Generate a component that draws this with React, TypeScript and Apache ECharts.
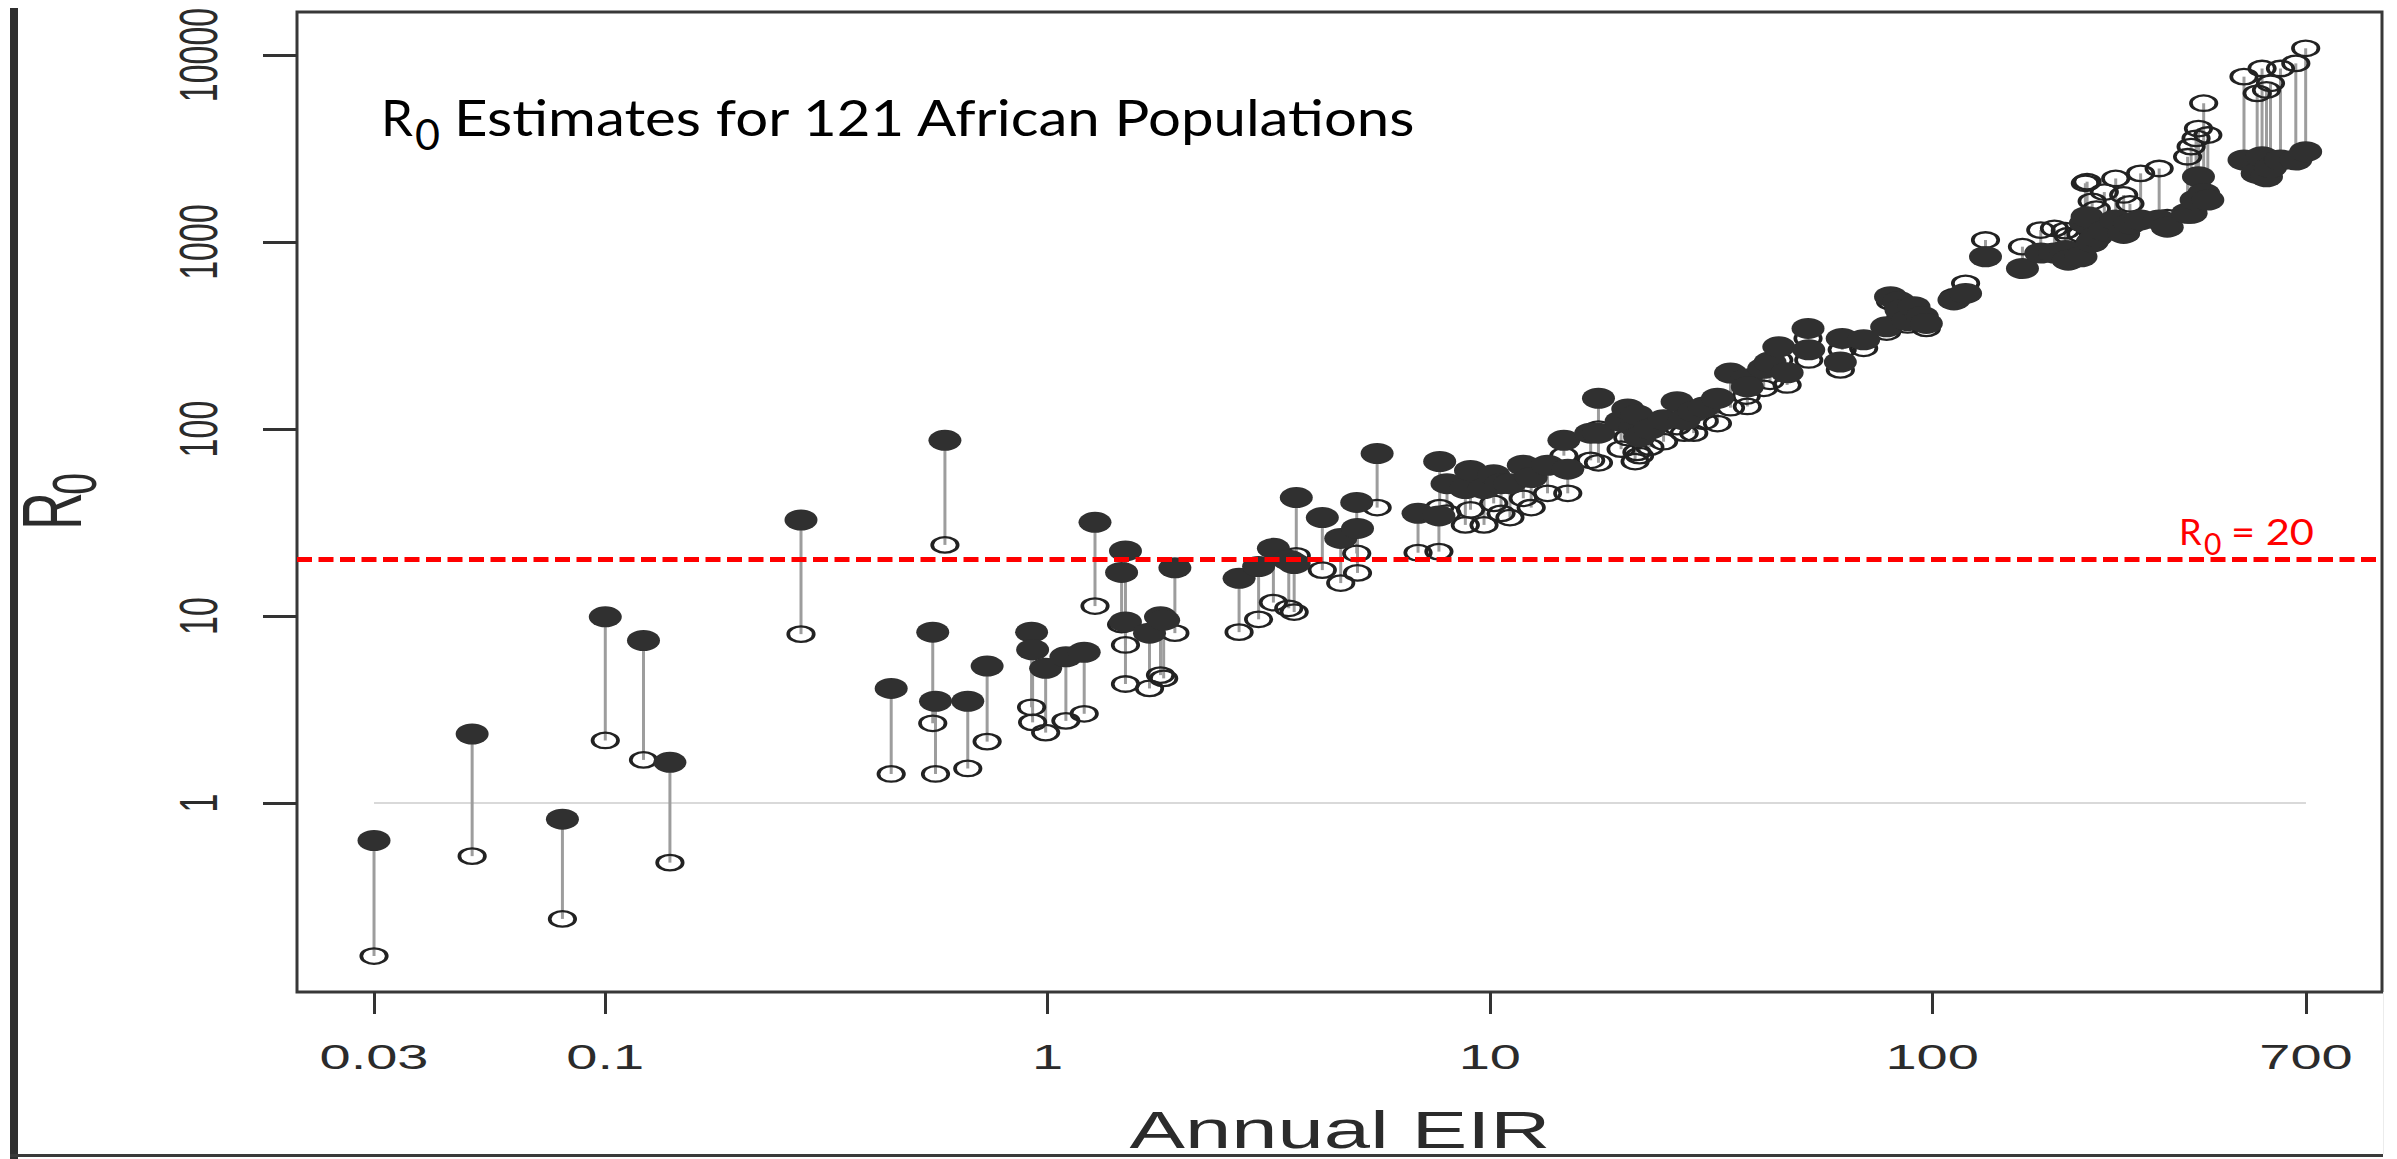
import React, { useEffect, useRef } from 'react';
import * as echarts from 'echarts';

// Annual entomological inoculation rate of each population (sorted ascending)
const annualEIR = [
  0.03, 0.05, 0.08, 0.1, 0.122, 0.14, 0.277, 0.443, 0.55, 0.558,
  0.586, 0.66, 0.73, 0.92, 0.925, 0.99, 1.1, 1.21, 1.28, 1.47,
  1.5, 1.5, 1.7, 1.8, 1.83, 1.94, 2.71, 3.0, 3.24, 3.51,
  3.61, 3.65, 4.18, 4.6, 5.0, 5.02, 5.56, 6.88, 7.67, 7.7,
  8.0, 8.8, 9.04, 9.7, 10.2, 10.6, 11.1, 11.9, 12.4, 13.5,
  14.7, 15.0, 16.9, 17.6, 17.6, 19.8, 20.5, 21.3, 21.5, 21.8,
  23, 24.7, 26.5, 27.5, 28.9, 30.5, 32.7, 35, 38, 38.2,
  41.6, 43, 45, 47, 52.4, 52.6, 62, 62.6, 70, 78.9,
  80.5, 84, 85, 88, 91, 95, 97, 112, 119, 132,
  160, 176, 189, 200, 203, 217, 222, 224, 230, 235,
  245, 260, 271, 280, 296, 326, 340, 378, 385, 395,
  400, 411, 420, 507, 543, 557, 570, 582, 613, 664,
  699,
];

// R0 estimate drawn as a solid marker for each population
const r0Solid = [
  0.63, 2.34, 0.82, 9.9, 7.4, 1.65, 32.6, 4.1, 8.2, 3.5,
  87, 3.5, 5.4, 8.2, 6.6, 5.25, 6.05, 6.4, 31.7, 17.1,
  22.3, 9.3, 8.1, 9.9, 9.5, 18.1, 15.9, 18.4, 23.0, 19.9,
  19.1, 43, 33.6, 26.0, 40.5, 29.4, 74, 35.4, 34.3, 67,
  51, 48, 60, 48, 57, 51, 51, 64, 55, 64,
  87, 61, 95, 146, 95, 110, 128, 103, 119, 91,
  100, 112, 140, 112, 124, 131, 146, 199, 185, 168,
  211, 228, 275, 200, 345, 265, 228, 305, 300, 352,
  510, 480, 433, 380, 451, 400, 367, 490, 531, 834,
  722, 873, 873, 900, 800, 834, 1262, 1365, 1000, 1067,
  1150, 1313, 1112, 1250, 1313, 1313, 1200, 1424, 1424, 1678,
  2233, 1819, 1678, 2746, 2328, 2857, 2233, 2500, 2746, 2746,
  3041,
];

// R0 estimate drawn as a hollow marker for each population
const r0Hollow = [
  0.152, 0.52, 0.24, 2.16, 1.7, 0.48, 8.0, 1.43, 2.67, 1.43,
  24, 1.53, 2.13, 3.25, 2.7, 2.38, 2.75, 3.0, 11.3, 9.0,
  7.0, 4.33, 4.1, 4.83, 4.64, 8.1, 8.2, 9.6, 11.8, 11.0,
  10.5, 21, 17.6, 15.0, 21.6, 17.0, 38, 21.8, 22.1, 38,
  35.5, 30.7, 37, 30.7, 40, 35.4, 33.6, 42.6, 38, 45.3,
  72, 45.3, 68, 100, 66, 78, 90, 67, 75, 72,
  80, 85.5, 103, 95, 95, 110, 107, 130, 150, 132,
  165, 180, 234, 172, 305, 234, 207, 265, 270, 330,
  480, 460, 400, 360, 420, 390, 345, 510, 601, 1025,
  944, 1159, 1183, 1150, 1080, 1100, 2061, 2102, 1650, 1500,
  1850, 2187, 1784, 1600, 2328, 2472, 1350, 2857, 3236, 3582,
  4045, 5521, 3734, 7660, 6236, 8469, 6500, 7060, 8469, 9020,
  10860,
];

const xTickValues = [0.03, 0.1, 1, 10, 100, 700];
const xTickLabels = ['0.03', '0.1', '1', '10', '100', '700'];
const yTickValues = [1, 10, 100, 1000, 10000];
const yTickLabels = ['1', '10', '100', '1000', '10000'];
const thresholdR0 = 20;
const unitR0 = 1;
const unitLineSpan = [0.03, 700];

const PAGE_W = 2397;
const PAGE_H = 1159;
const PLOT = { left: 297, top: 12, right: 2382, bottom: 992 };
const X_RANGE = [0.02009, 1040];
const Y_RANGE = [0.0976, 16980];
const STRETCH = 1.6; // the whole R panel is drawn horizontally stretched
const ELLIPSE = 'path://M0 50A50 50 0 1 1 100 50A50 50 0 1 1 0 50Z';
const INK = '#2b2b2b';

function measure(text: string, font: string): number {
  const ctx = document.createElement('canvas').getContext('2d')!;
  ctx.font = font;
  return ctx.measureText(text).width;
}

function label(
  x: number, y: number, text: string, size: number,
  opts: { rotation?: number; scaleX?: number; family?: string; color?: string; align?: string } = {},
) {
  return {
    type: 'group',
    x, y,
    scaleX: opts.scaleX ?? STRETCH,
    silent: true,
    children: [{
      type: 'text',
      rotation: opts.rotation ?? 0,
      style: {
        text,
        fontSize: size,
        fontFamily: opts.family ?? 'Liberation Sans',
        fill: opts.color ?? INK,
        align: opts.align ?? 'center',
        verticalAlign: 'middle',
      },
    }],
  };
}

function buildOption(): echarts.EChartsOption {
  const pairs = annualEIR.map((e, i) => [e, r0Solid[i], r0Hollow[i]]);
  const tickStyle = { color: '#333333', width: 3 };
  return {
    animation: false,
    backgroundColor: '#ffffff',
    grid: {
      left: PLOT.left,
      top: PLOT.top,
      width: PLOT.right - PLOT.left,
      height: PLOT.bottom - PLOT.top,
      show: true,
      borderColor: '#383838',
      borderWidth: 3,
      backgroundColor: 'transparent',
      containLabel: false,
    },
    xAxis: {
      type: 'log',
      logBase: 10,
      min: X_RANGE[0],
      max: X_RANGE[1],
      axisLine: { show: false },
      splitLine: { show: false },
      minorTick: { show: false },
      axisLabel: { show: false },
      axisTick: { show: true, customValues: xTickValues, length: 22, lineStyle: tickStyle },
    } as any,
    yAxis: {
      type: 'log',
      logBase: 10,
      min: Y_RANGE[0],
      max: Y_RANGE[1],
      axisLine: { show: false },
      splitLine: { show: false },
      minorTick: { show: false },
      axisLabel: { show: false },
      axisTick: { show: true, customValues: yTickValues, length: 34, lineStyle: tickStyle },
    } as any,
    series: [
      {
        type: 'custom',
        name: 'stems',
        z: 1,
        silent: true,
        data: pairs,
        encode: { x: 0, y: [1, 2] },
        renderItem: (_params: any, api: any) => {
          const x = api.value(0);
          const a = api.coord([x, api.value(1)]);
          const b = api.coord([x, api.value(2)]);
          return {
            type: 'line',
            shape: { x1: a[0], y1: a[1], x2: b[0], y2: b[1] },
            style: { stroke: '#9d9d9d', lineWidth: 3 },
          };
        },
      } as any,
      {
        type: 'scatter',
        name: 'hollow',
        z: 2,
        silent: true,
        data: annualEIR.map((e, i) => [e, r0Hollow[i]]),
        symbol: ELLIPSE,
        symbolSize: [25.5, 15.5],
        itemStyle: { color: 'rgba(0,0,0,0)', borderColor: '#222222', borderWidth: 2.9, opacity: 1 },
        markLine: {
          silent: true,
          symbol: 'none',
          z: 1,
          label: { show: false },
          lineStyle: { color: '#d9d9d9', width: 2, type: 'solid', opacity: 1 },
          data: [[{ coord: [unitLineSpan[0], unitR0] }, { coord: [unitLineSpan[1], unitR0] }]],
        },
      } as any,
      {
        type: 'scatter',
        name: 'solid',
        z: 3,
        silent: true,
        data: annualEIR.map((e, i) => [e, r0Solid[i]]),
        symbol: ELLIPSE,
        symbolSize: [33, 21],
        itemStyle: { color: '#303030', opacity: 1 },
        markLine: {
          silent: true,
          symbol: 'none',
          z: 6,
          label: { show: false },
          lineStyle: { color: '#ff0000', width: 5, type: [15, 6.5], opacity: 1 },
          data: [{ yAxis: thresholdR0 }],
        },
      } as any,
    ],
  };
}

function buildGraphics(chart: echarts.ECharts): any[] {
  const px = (v: number) => chart.convertToPixel({ xAxisIndex: 0 }, v) as unknown as number;
  const py = (v: number) => chart.convertToPixel({ yAxisIndex: 0 }, v) as unknown as number;
  const items: any[] = [];

  // tick labels, drawn stretched like the rest of the panel
  xTickValues.forEach((v, i) => items.push(label(px(v), 1057, xTickLabels[i], 35)));
  yTickValues.forEach((v, i) =>
    items.push(label(198, py(v), yTickLabels[i], 34, { rotation: Math.PI / 2 })),
  );

  // axis titles
  items.push(label(1340, 1130, 'Annual EIR', 52));
  items.push(label(52, 511, 'R', 52, { rotation: Math.PI / 2 }));
  items.push(label(74, 484, '0', 39, { rotation: Math.PI / 2 }));

  // headline
  const titleFont = 'Lato';
  const titleSize = 51;
  const rest = 'Estimates for 121 African Populations';
  const restScale = 964 / measure(rest, `${titleSize}px ${titleFont}`);
  items.push(label(381, 116, 'R', titleSize, { scaleX: 1, family: titleFont, color: '#000', align: 'left' }));
  items.push(label(415, 133, '0', 43, { scaleX: 1, family: titleFont, color: '#000', align: 'left' }));
  items.push(label(454, 116, rest, titleSize, { scaleX: restScale, family: titleFont, color: '#000', align: 'left' }));

  // threshold annotation, placed just above the dashed line
  const ly = py(thresholdR0);
  const red = '#ff0000';
  const eqText = `= ${thresholdR0}`;
  const eqScale = 83 / measure(eqText, `36px ${titleFont}`);
  items.push(label(2179, ly - 29, 'R', 36, { scaleX: 1, family: titleFont, color: red, align: 'left' }));
  items.push(label(2204, ly - 17, '0', 30, { scaleX: 1, family: titleFont, color: red, align: 'left' }));
  items.push(label(2231, ly - 29, eqText, 36, { scaleX: eqScale, family: titleFont, color: red, align: 'left' }));

  // page frame strokes on the left and bottom
  items.push({ type: 'rect', z: 10, silent: true, shape: { x: 10, y: 8, width: 8, height: PAGE_H - 8 }, style: { fill: '#2f2f2f' } });
  items.push({ type: 'rect', z: 10, silent: true, shape: { x: 10, y: 1154, width: 2373, height: 3 }, style: { fill: '#3a3a3a' } });
  items.push({ type: 'rect', z: 10, silent: true, shape: { x: 2383, y: PLOT.bottom, width: 1, height: 1154 - PLOT.bottom }, style: { fill: '#ececec' } });
  return items;
}

export default function App() {
  const ref = useRef<HTMLDivElement>(null);
  useEffect(() => {
    const chart = echarts.init(ref.current!, null, { renderer: 'svg', width: PAGE_W, height: PAGE_H });
    chart.setOption(buildOption());
    chart.setOption({ graphic: buildGraphics(chart) });
    return () => chart.dispose();
  }, []);
  return (
    <div
      ref={ref}
      style={{ position: 'fixed', left: 0, top: 0, width: PAGE_W, height: PAGE_H, background: '#fff' }}
    />
  );
}
